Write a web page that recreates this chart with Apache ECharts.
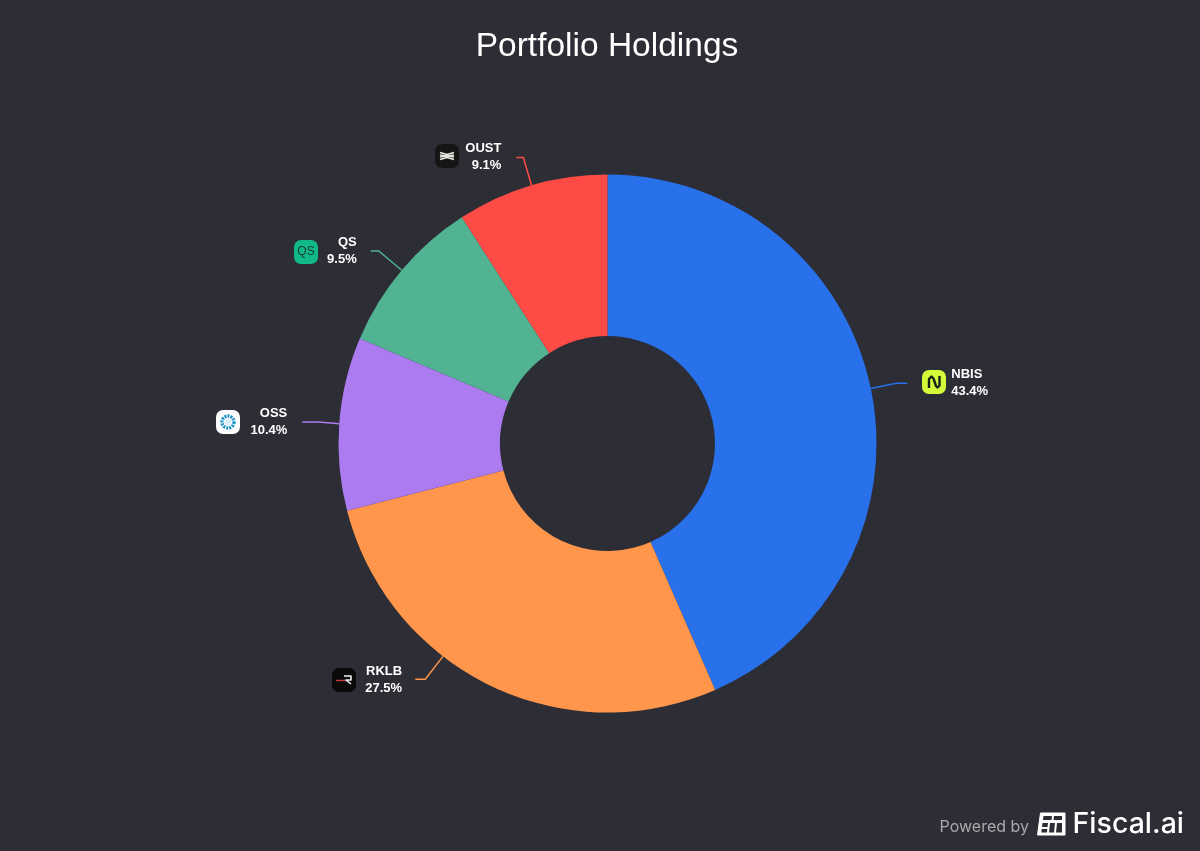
<!DOCTYPE html>
<html><head><meta charset="utf-8">
<style>html,body{margin:0;padding:0;background:#2c2d35}#c{width:1200px;height:851px}</style>
<script src="https://cdn.jsdelivr.net/npm/echarts@6/dist/echarts.min.js"></script>
</head><body><div id="c"></div>
<script>
const tickers = ['NBIS','RKLB','OSS','QS','OUST'];
const weights = [43.4,27.5,10.4,9.5,9.1];
const colors = ['#2871ea','#ff964b','#ad7bf0','#52b393','#ff4b45'];
const lineLen = [26,29,21,30,29];
const lineLen2 = [11,10,16,8,7];
const labelPad = [[0,0,0,44],[0,15,0,0],[0,15,0,0],[0,14,0,0],[0,15,0,0]];
const anchorAngle = [null,217.7,null,null,null];
const labelShift = [[0,0],[-50,-31.5],[0,-0.5],[0,0],[0,-1]];
const pieCenter = [607.5,443.5];
const outerR = 269;

function stroke(points,color,w){
  return {type:'polyline',shape:{points},style:{fill:'none',stroke:color,lineWidth:w,lineJoin:'round'}};
}
function cell(points){
  return {type:'polygon',shape:{points},style:{fill:'#2c2d35'}};
}
function badge(x,y,fill,children){
  return {type:'group',x,y,silent:true,children:[
    {type:'rect',shape:{x:0,y:0,width:24,height:24,r:7},style:{fill}},...children]};
}
const logos = [
  badge(922,370,'#d4fb3a',[stroke([[7,18],[7,9],[9.5,6.5],[11.5,8.5],[14,16],[15.5,17.5],[17.5,15.5],[17.5,6]],'#16201a',2.4)]),
  badge(435,144,'#151515',[
    stroke([[5,8.5],[12,10.5],[19,8.5]],'#e8e8e4',1.5),stroke([[5,15.5],[12,13.5],[19,15.5]],'#e8e8e4',1.5),
    stroke([[5,11],[12,12],[19,11]],'#e8e8e4',1.3),stroke([[5,13],[12,12],[19,13]],'#e8e8e4',1.3)]),
  badge(294,240,'#11b98a',[{type:'text',x:12,y:12,style:{text:'QS',fill:'#123a30',font:'12px "Liberation Sans"',align:'center',verticalAlign:'middle'}}]),
  badge(216,410,'#ffffff',[{type:'circle',shape:{cx:12,cy:12,r:6},style:{fill:'none',stroke:'#1f93c9',lineWidth:3.4,lineDash:[2,1]}},{type:'circle',shape:{cx:12,cy:12,r:3},style:{fill:'#d8eef8'}}]),
  badge(332,668,'#0a0a0a',[stroke([[4,12.5],[14,12.5]],'#c8383a',1.4),stroke([[12,8],[19,8],[19,12],[14,12],[19,16]],'#f0f0f0',1.6)])
];
const footer = [
  {type:'text',silent:true,x:1029,y:827,style:{text:'Powered by',fill:'#a9a9ad',font:'16px Inter',align:'right',verticalAlign:'middle'}},
  {type:'text',silent:true,x:1184,y:824,style:{text:'Fiscal.ai',fill:'#ffffff',font:'500 28.5px Inter',align:'right',verticalAlign:'middle'}},
  {type:'group',silent:true,x:1037,y:813,children:[
    {type:'polygon',shape:{points:[[3.5,0],[28,0],[28,22],[0.5,22]]},style:{fill:'#ffffff',stroke:'#ffffff',lineWidth:1,lineJoin:'round'}},
    cell([[6.5,3],[15,3],[14.5,7],[6,7]]),cell([[17,3],[25,3],[25,7],[16.5,7]]),
    cell([[5.5,10],[11,10],[10.5,14],[5,14]]),cell([[4.8,16],[10.3,16],[10,19.5],[4.3,19.5]]),
    cell([[13,10],[18,10],[17,19.5],[12,19.5]]),cell([[20,10],[25,10],[25,19.5],[19,19.5]])
  ]}
];

const chart = echarts.init(document.getElementById('c'),null,{renderer:'canvas'});
chart.setOption({
  backgroundColor:'#2c2d35',
  animation:false,
  title:{text:'Portfolio Holdings',left:602,top:25,textAlign:'center',
    textStyle:{color:'#ffffff',fontSize:33.5,fontWeight:'normal',fontFamily:'"Liberation Sans"'}},
  graphic:[...logos,...footer],
  series:[{
    type:'pie',
    center:pieCenter,
    radius:[107.5,outerR],
    startAngle:90,
    clockwise:true,
    avoidLabelOverlap:false,
    silent:true,
    label:{show:true,position:'outside',color:'#ffffff',fontSize:13,fontWeight:'bold',
      fontFamily:'"Liberation Sans"',lineHeight:17,distanceToLabelLine:0,
      formatter:p=>p.name+'\n'+p.value.toFixed(1)+'%'},
    labelLayout:function(p){
      const i=p.dataIndex, s=labelShift[i], out={dx:s[0],dy:s[1]};
      if(anchorAngle[i]!=null){
        const a=anchorAngle[i]*Math.PI/180, sx=Math.sin(a), cy=-Math.cos(a);
        const a0=[pieCenter[0]+outerR*sx,pieCenter[1]+outerR*cy];
        const a1=[a0[0]+lineLen[i]*sx,a0[1]+lineLen[i]*cy];
        out.labelLinePoints=[a0,a1,[a1[0]-lineLen2[i],a1[1]]];
      }
      return out;
    },
    data:tickers.map((t,i)=>({
      name:t,value:weights[i],
      itemStyle:{color:colors[i],borderWidth:0},
      label:{padding:labelPad[i]},
      labelLine:{show:true,length:lineLen[i],length2:lineLen2[i],smooth:false,lineStyle:{color:colors[i],width:1.5}}
    }))
  }]
});
</script></body></html>
